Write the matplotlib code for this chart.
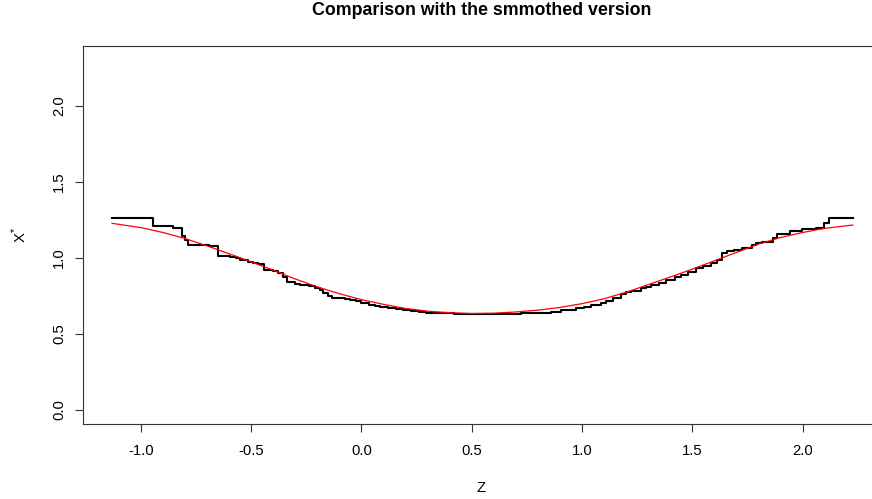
import matplotlib
matplotlib.use('Agg')
import matplotlib.pyplot as plt

plt.rcParams['font.family'] = ['Liberation Sans', 'DejaVu Sans']
plt.rcParams['mathtext.fontset'] = 'custom'
plt.rcParams['mathtext.rm'] = 'Liberation Sans'

# step estimate (black): x where each step starts, and its level
step_z = [-1.132, -0.945, -0.855, -0.814, -0.800, -0.786, -0.740, -0.690,
          -0.650, -0.595, -0.570, -0.550, -0.514, -0.490, -0.468, -0.441,
          -0.400, -0.377, -0.355, -0.336, -0.300, -0.277, -0.240, -0.209,
          -0.190, -0.173, -0.150, -0.132, -0.100, -0.073, -0.050, -0.027,
          0.000, 0.032, 0.060, 0.086, 0.120, 0.155, 0.190, 0.223, 0.260,
          0.291, 0.330, 0.359, 0.420, 0.495, 0.600, 0.680, 0.723, 0.770,
          0.814, 0.860, 0.905, 0.940, 0.973, 1.010, 1.041, 1.086, 1.110,
          1.141, 1.177, 1.200, 1.223, 1.268, 1.290, 1.314, 1.350, 1.382,
          1.420, 1.450, 1.480, 1.518, 1.550, 1.586, 1.610, 1.636, 1.655,
          1.690, 1.723, 1.768, 1.790, 1.814, 1.864, 1.882, 1.941, 1.995,
          2.059, 2.095, 2.118, 2.227]
step_x = [1.261, 1.213, 1.195, 1.145, 1.118, 1.086, 1.083, 1.078,
          1.015, 1.007, 0.998, 0.990, 0.974, 0.968, 0.961, 0.921,
          0.912, 0.901, 0.875, 0.840, 0.830, 0.822, 0.813, 0.805,
          0.790, 0.770, 0.752, 0.739, 0.735, 0.730, 0.725, 0.719,
          0.705, 0.691, 0.684, 0.678, 0.671, 0.664, 0.657, 0.651, 0.645,
          0.641, 0.638, 0.636, 0.633, 0.630, 0.631, 0.633, 0.635, 0.638,
          0.641, 0.648, 0.655, 0.661, 0.668, 0.680, 0.694, 0.702, 0.718,
          0.737, 0.763, 0.775, 0.786, 0.803, 0.812, 0.822, 0.838, 0.855,
          0.872, 0.888, 0.905, 0.934, 0.950, 0.965, 0.985, 1.033, 1.046,
          1.055, 1.064, 1.086, 1.097, 1.107, 1.132, 1.158, 1.178, 1.191,
          1.199, 1.228, 1.261, 1.261]

# smoothed version (red)
smooth_z = [-1.13, -1.0, -0.9, -0.8, -0.7, -0.6, -0.5, -0.4, -0.3, -0.2,
            -0.1, 0.0, 0.1, 0.2, 0.3, 0.4, 0.5, 0.6, 0.7, 0.8, 0.9, 1.0,
            1.1, 1.2, 1.3, 1.4, 1.5, 1.6, 1.7, 1.8, 1.9, 2.0, 2.1, 2.227]
smooth_x = [1.228, 1.200, 1.168, 1.128, 1.080, 1.028, 0.975, 0.920, 0.862,
            0.810, 0.765, 0.726, 0.695, 0.668, 0.650, 0.640, 0.635, 0.637,
            0.645, 0.657, 0.675, 0.700, 0.732, 0.775, 0.825, 0.875, 0.927,
            0.982, 1.037, 1.092, 1.135, 1.168, 1.195, 1.217]

xticks = [-1.0, -0.5, 0.0, 0.5, 1.0, 1.5, 2.0]
yticks = [0.0, 0.5, 1.0, 1.5, 2.0]

fig = plt.figure(figsize=(8.72, 4.99), dpi=100)
W, H = 872, 499
ax = fig.add_axes([83 / W, 1 - 424 / H, (880 - 83) / W, (424 - 46.4) / H])

ax.plot(step_z, step_x, drawstyle='steps-post', color='black', lw=1.5)
ax.plot(smooth_z, smooth_x, color='red', lw=0.9)

ax.set_xlim(-1.262, 2.35)
ax.set_ylim(-0.092, 2.392)
ax.set_xticks(xticks)
ax.set_xticklabels([f'{t:.1f}' for t in xticks])
ax.set_yticks(yticks)
ax.set_yticklabels([f'{t:.1f}' for t in yticks], rotation=90, va='center')
ax.tick_params(direction='out', length=5.8, width=0.8, labelsize=10.7,
               color='#333333')
ax.tick_params(axis='x', pad=8.5)
ax.tick_params(axis='y', pad=6.5)
for s in ax.spines.values():
    s.set_linewidth(0.8)
    s.set_color('#333333')

xl = ax.set_xlabel('Z', fontsize=10.7)
xl.set_va('center')
ax.xaxis.set_label_coords(0.5, (424 - 488) / (424 - 46.4))
yl = ax.set_ylabel(r'X$^{*}$', fontsize=10.7)
yl.set_va('center')
ax.yaxis.set_label_coords((19 - 83) / (880 - 83), 0.5)

fig.text(481.5 / W, 1 - 10.5 / H, 'Comparison with the smmothed version',
         ha='center', va='center', fontsize=12.8, fontweight='bold')

fig.savefig('out.png', dpi=100)
